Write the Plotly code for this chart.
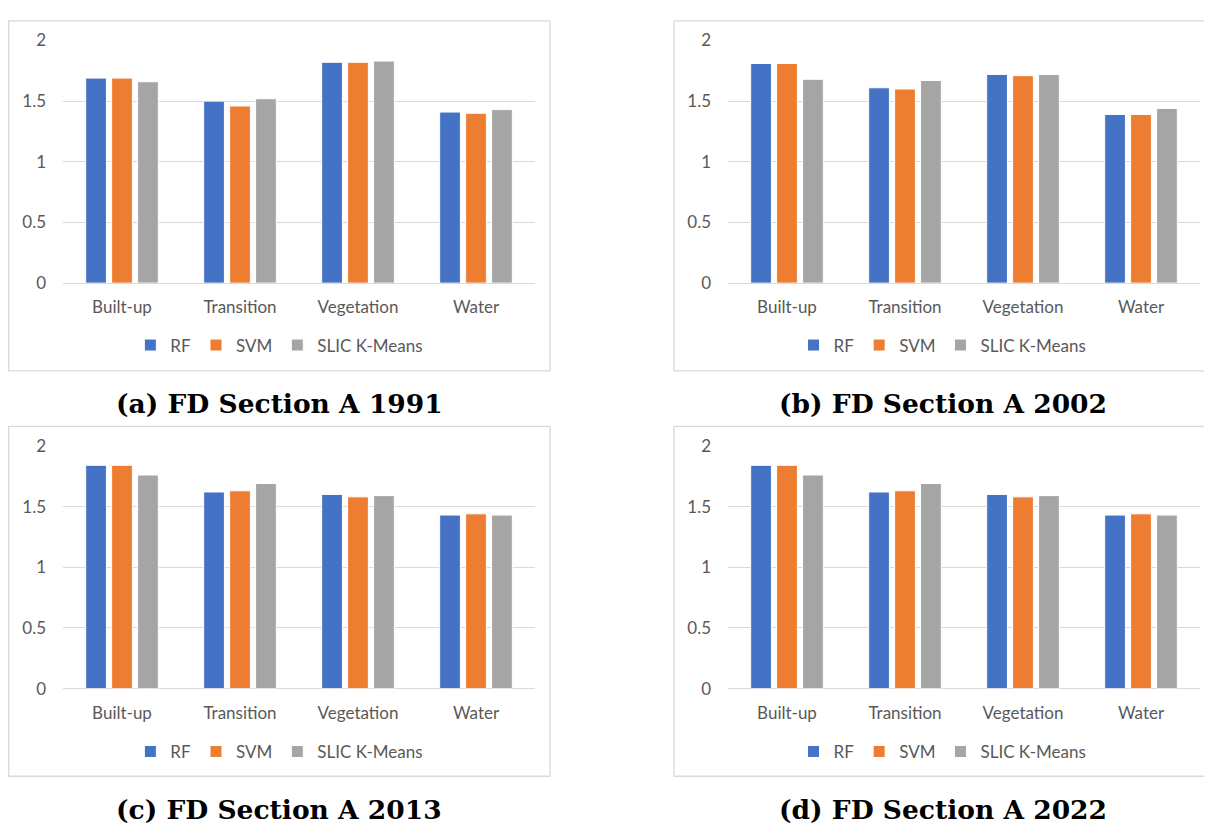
import plotly.graph_objects as go

categories = ["Built-up", "Transition", "Vegetation", "Water"]
series_names = ["RF", "SVM", "SLIC K-Means"]
series_colors = ["#4472C4", "#ED7D31", "#A5A5A5"]

rf_1991 = [1.69, 1.50, 1.82, 1.41]
svm_1991 = [1.69, 1.46, 1.82, 1.40]
slic_1991 = [1.66, 1.52, 1.83, 1.43]

rf_2002 = [1.81, 1.61, 1.72, 1.39]
svm_2002 = [1.81, 1.60, 1.71, 1.39]
slic_2002 = [1.68, 1.67, 1.72, 1.44]

rf_2013 = [1.84, 1.62, 1.60, 1.43]
svm_2013 = [1.84, 1.63, 1.58, 1.44]
slic_2013 = [1.76, 1.69, 1.59, 1.43]

rf_2022 = [1.84, 1.62, 1.60, 1.43]
svm_2022 = [1.84, 1.63, 1.58, 1.44]
slic_2022 = [1.76, 1.69, 1.59, 1.43]

captions = ["(a) FD Section A 1991", "(b) FD Section A 2002",
            "(c) FD Section A 2013", "(d) FD Section A 2022"]
y_tick_vals = [0, 0.5, 1, 1.5, 2]
y_tick_text = ["0", "0.5", "1", "1.5", "2"]

panel_data = [
    [rf_1991, svm_1991, slic_1991],
    [rf_2002, svm_2002, slic_2002],
    [rf_2013, svm_2013, slic_2013],
    [rf_2022, svm_2022, slic_2022],
]

# the page body has an 8px margin, so the figure starts at (8, 8)
OFF = 8
W, H = 1204, 827
def fx(x):
    return (x - OFF) / W
def fy(y):
    return 1 - (y - OFF) / H

# layout in page pixels: border box, plot box, legend y, caption y
panels = [
    dict(border=(8.7, 10, 550, 369), plot=(63, 30, 535, 279), leg=343, cap=403),
    dict(border=(674, 10, 1211, 369), plot=(728, 30, 1200, 279), leg=343, cap=403),
    dict(border=(8.7, 426, 550, 785), plot=(63, 446, 535, 695), leg=760, cap=819),
    dict(border=(674, 426, 1211, 785), plot=(728, 446, 1200, 695), leg=760, cap=819),
]

GRAY = "#595959"
GRID = "#D9D9D9"
FONT = "Lato"

fig = go.Figure()
layout = dict(
    width=W, height=H,
    margin=dict(l=0, r=0, t=0, b=0),
    paper_bgcolor="white", plot_bgcolor="white",
    barmode="group", bargap=0.34, bargroupgap=0.2,
    shapes=[], annotations=[],
    font=dict(family=FONT, color=GRAY, size=16),
)

for i, (p, vals) in enumerate(zip(panels, panel_data)):
    sfx = "" if i == 0 else str(i + 1)
    leg = "legend" if i == 0 else "legend" + str(i + 1)
    for name, v, c in zip(series_names, vals, series_colors):
        fig.add_trace(go.Bar(
            x=categories, y=v, name=name,
            marker=dict(color=c, line=dict(color="white", width=1)),
            xaxis="x" + sfx, yaxis="y" + sfx, legend=leg,
            hoverinfo="x+y+name",
        ))
    x0, y0, x1, y1 = p["plot"]
    layout["xaxis" + sfx] = dict(
        domain=[fx(x0), fx(x1)], anchor="y" + sfx,
        showgrid=False, showline=False, zeroline=False, ticks="",
        tickfont=dict(family=FONT, size=17, color=GRAY),
        ticklabelstandoff=12, fixedrange=True,
    )
    layout["yaxis" + sfx] = dict(
        domain=[fy(y1), fy(y0)], anchor="x" + sfx,
        range=[0, 2.0001], tickvals=y_tick_vals, ticktext=y_tick_text,
        showgrid=True, gridcolor=GRID, gridwidth=1.3,
        zeroline=True, zerolinecolor=GRID, zerolinewidth=1.3,
        showline=False, ticks="",
        tickfont=dict(family=FONT, size=17, color=GRAY),
        ticklabelstandoff=16, fixedrange=True,
    )
    bx0, by0, bx1, by1 = p["border"]
    layout["shapes"].append(dict(
        type="rect", xref="paper", yref="paper",
        x0=fx(bx0), x1=fx(bx1), y0=fy(by1), y1=fy(by0),
        line=dict(color=GRID, width=1.3), fillcolor="rgba(0,0,0,0)", layer="below",
    ))
    layout[leg] = dict(
        orientation="h", x=fx((bx0 + bx1) / 2), xanchor="center",
        y=fy(p["leg"]), yanchor="middle",
        font=dict(family=FONT, size=17, color=GRAY),
        bgcolor="rgba(0,0,0,0)", itemclick=False, itemdoubleclick=False,
        tracegroupgap=0,
    )
    layout["annotations"].append(dict(
        text="<b>" + captions[i] + "</b>", xref="paper", yref="paper",
        x=fx((bx0 + bx1) / 2), y=fy(p["cap"]), xanchor="center", yanchor="middle",
        showarrow=False,
        font=dict(family="DejaVu Serif", size=26.5, color="black"),
    ))

fig.update_layout(**layout)
fig.write_html("out.html")
